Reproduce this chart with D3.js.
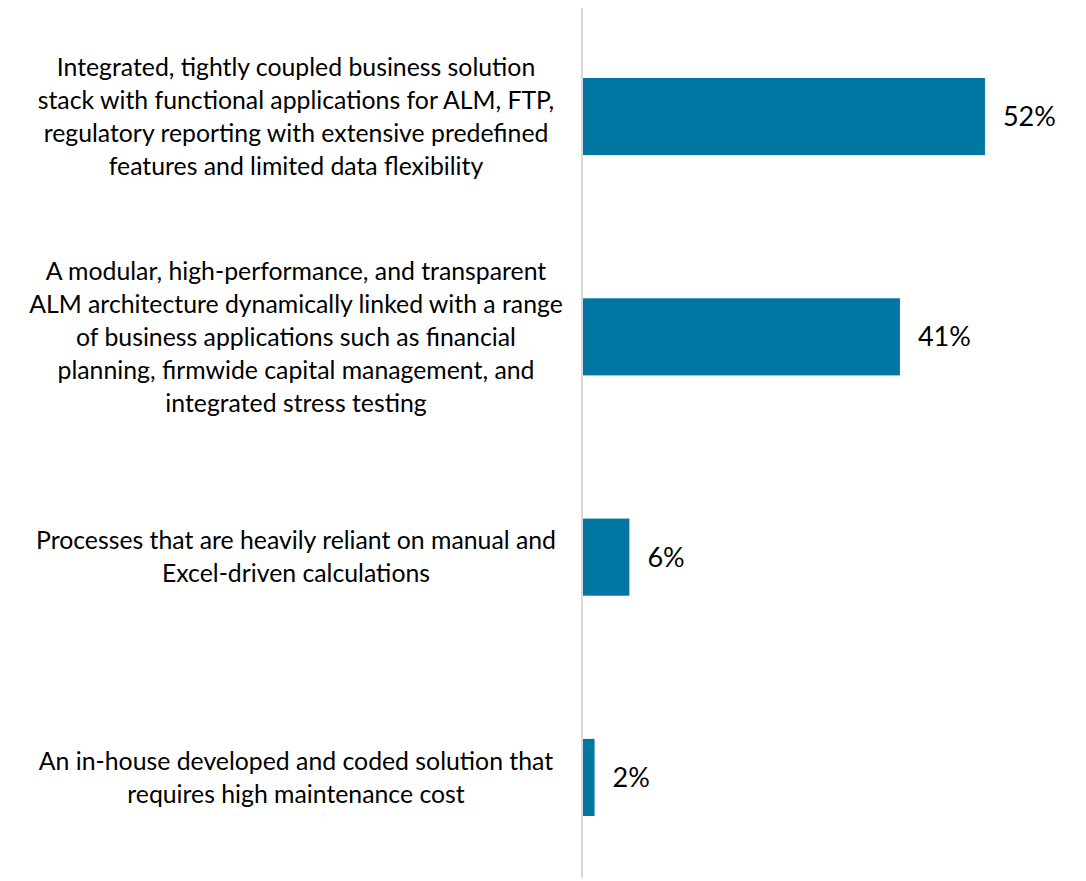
<!DOCTYPE html>
<html>
<head>
<meta charset="utf-8">
<script src="https://cdn.jsdelivr.net/npm/d3@7"></script>
<style>
  html, body { margin: 0; padding: 0; background: #fff; }
  svg { display: block; }
</style>
</head>
<body>
<div id="chart"></div>
<script>
// category labels, one array entry per wrapped line
var categories = [
  ["Integrated, tightly coupled business solution",
   "stack with functional applications for ALM, FTP,",
   "regulatory reporting with extensive predefined",
   "features and limited data flexibility"],
  ["A modular, high-performance, and transparent",
   "ALM architecture dynamically linked with a range",
   "of business applications such as financial",
   "planning, firmwide capital management, and",
   "integrated stress testing"],
  ["Processes that are heavily reliant on manual and",
   "Excel-driven calculations"],
  ["An in-house developed and coded solution that",
   "requires high maintenance cost"]
];
var values = [52, 41, 6, 1.5];

var width = 1086, height = 881;
var font = "Lato, sans-serif";

var svg = d3.select("#chart").append("svg")
  .attr("width", width)
  .attr("height", height);

var data = categories.map(function(c, i) {
  return {key: i, lines: c, value: values[i]};
});

var x = d3.scaleLinear()
  .domain([0, 60])
  .range([583, 583 + 60 * 7.73]);

var y = d3.scaleBand()
  .domain(data.map(function(d) { return d.key; }))
  .range([6.4, 887.6])
  .paddingInner(0.65)
  .paddingOuter(0.325);

// bars
svg.append("g")
  .selectAll("rect")
  .data(data)
  .enter()
  .append("rect")
  .attr("x", x(0))
  .attr("y", function(d) { return y(d.key); })
  .attr("width", function(d) { return x(d.value) - x(0); })
  .attr("height", y.bandwidth())
  .attr("fill", "#0077a2");

// vertical axis line
svg.append("line")
  .attr("x1", x(0) - 1).attr("x2", x(0) - 1)
  .attr("y1", 8).attr("y2", 878)
  .attr("stroke", "#d9d9d9")
  .attr("stroke-width", 2);

// category labels
var lineHeight = 33;
svg.append("g")
  .selectAll("text")
  .data(data)
  .enter()
  .append("text")
  .attr("font-family", font)
  .attr("font-size", "24.8px")
  .attr("fill", "#000")
  .attr("text-anchor", "middle")
  .each(function(d) {
    var cy = y(d.key) + y.bandwidth() / 2;
    var top = cy - (d.lines.length - 1) * lineHeight / 2;
    var t = d3.select(this);
    d.lines.forEach(function(line, i) {
      t.append("tspan")
        .attr("x", 296)
        .attr("y", top + i * lineHeight)
        .attr("dy", "0.35em")
        .text(line);
    });
  });

// value labels
svg.append("g")
  .selectAll("text")
  .data(data)
  .enter()
  .append("text")
  .attr("font-family", font)
  .attr("font-size", "27px")
  .attr("fill", "#000")
  .attr("x", function(d) { return x(d.value) + 18; })
  .attr("y", function(d) { return y(d.key) + y.bandwidth() / 2; })
  .attr("dy", "0.35em")
  .text(function(d) { return Math.round(d.value) + "%"; });
</script>
</body>
</html>
